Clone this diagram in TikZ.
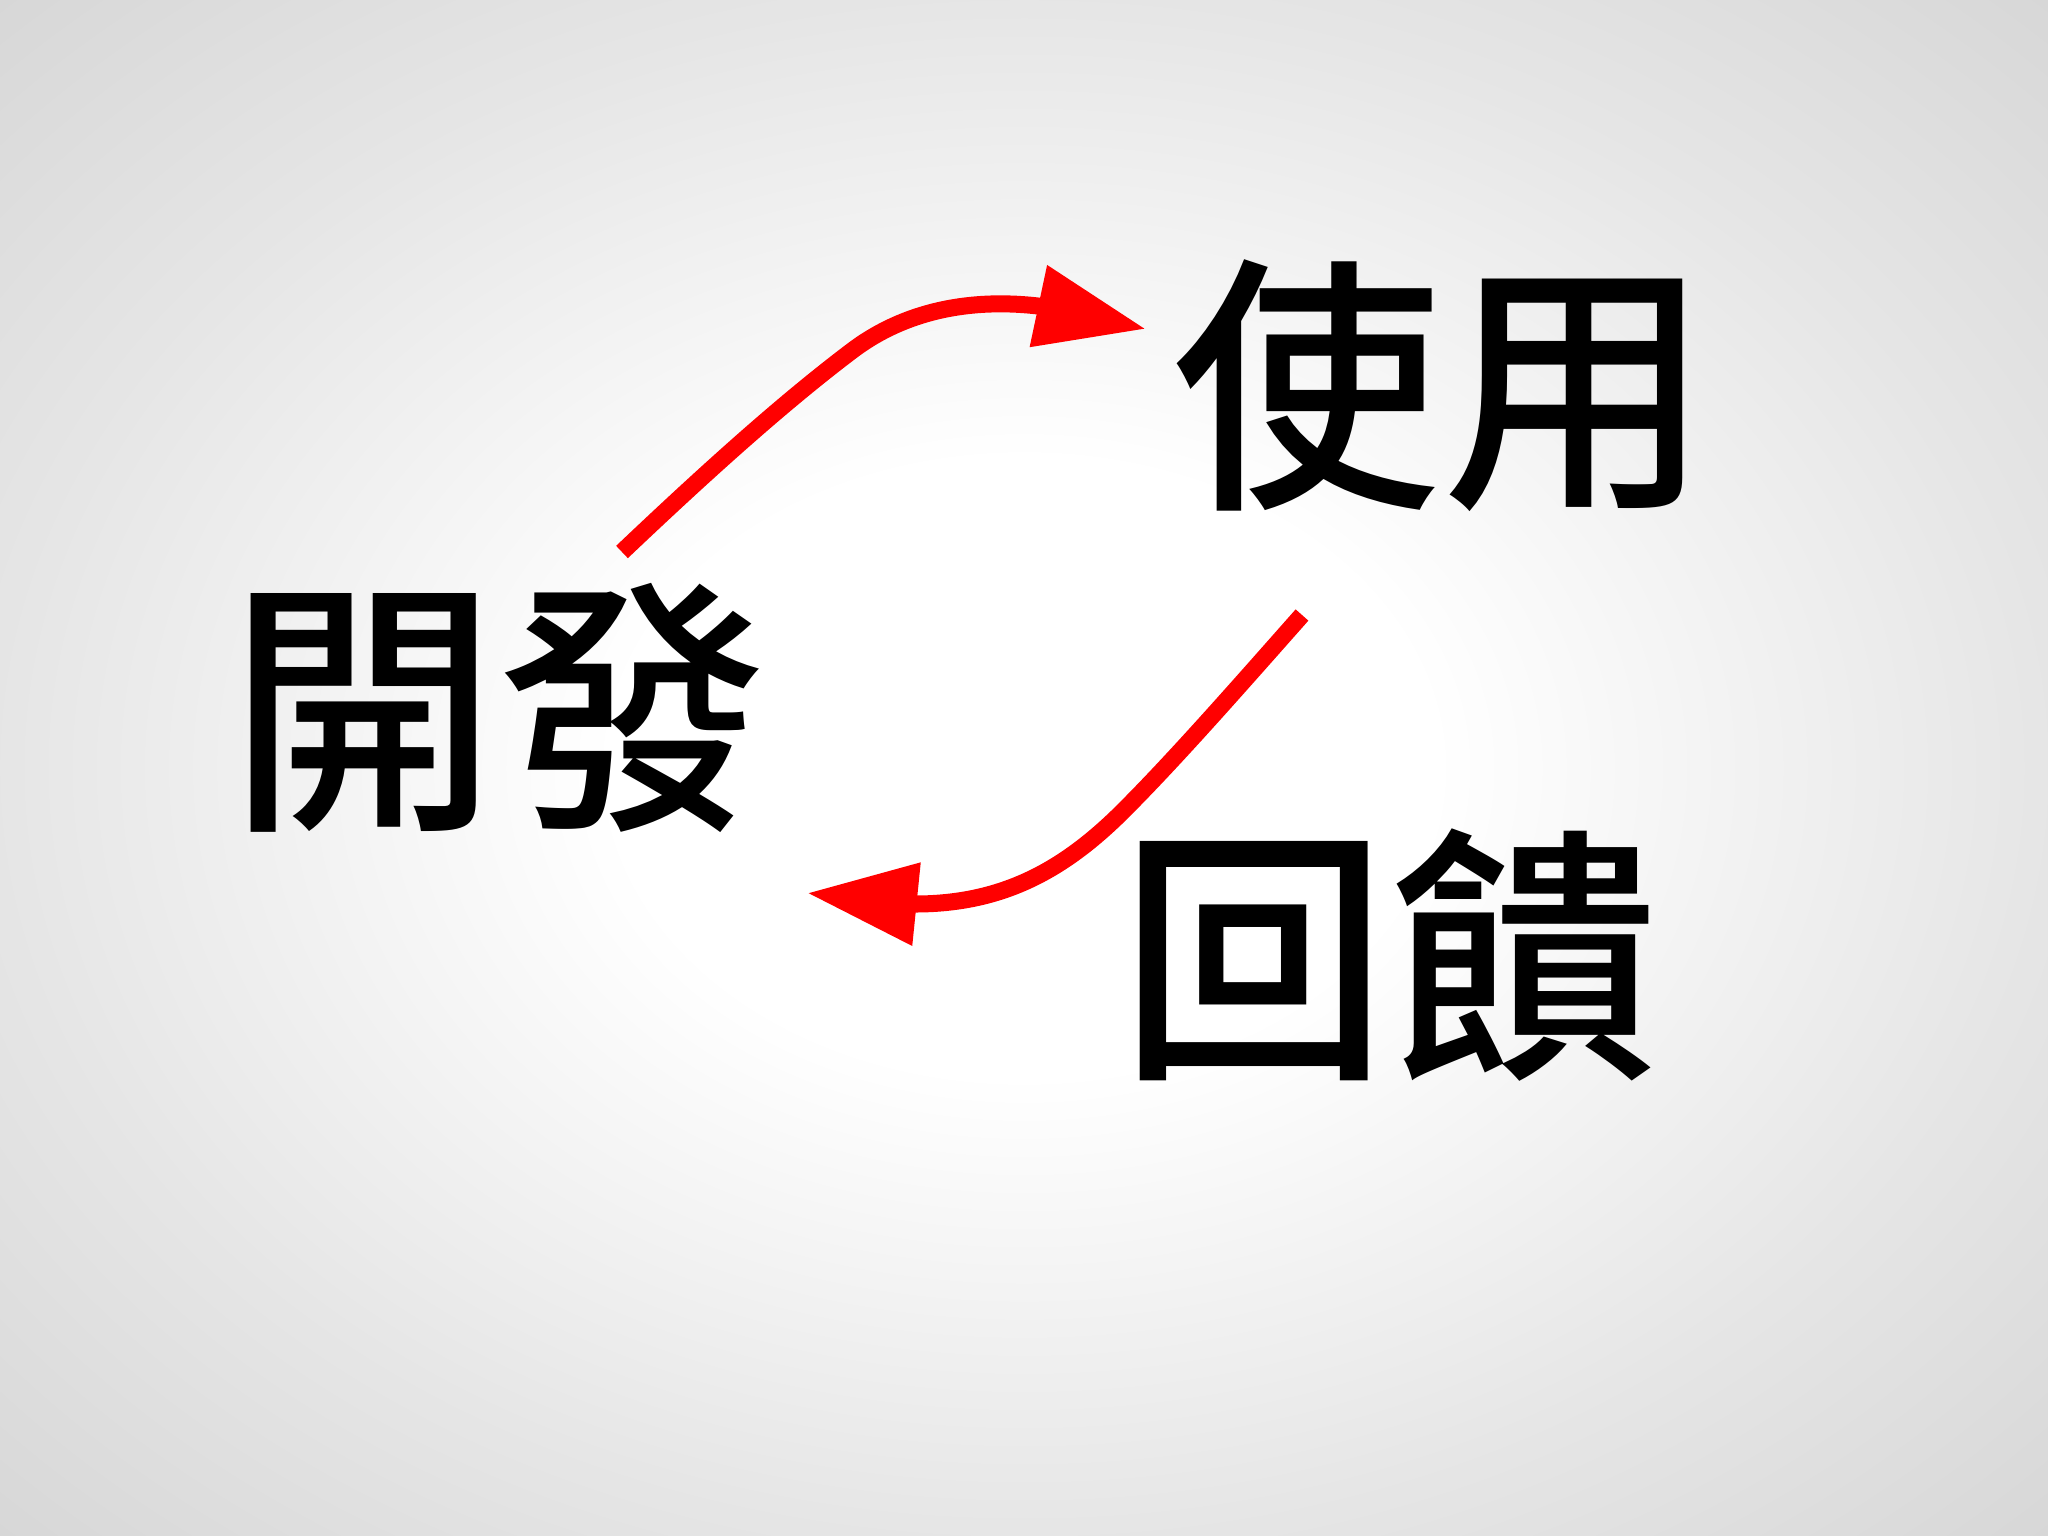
\documentclass[tikz,border=0pt]{standalone}
\usepackage{fontspec}
\newfontfamily\cjk{Noto Sans CJK TC}[UprightFont=* Medium]
\usetikzlibrary{arrows.meta}
\pgfdeclareradialshading{bgshade}{\pgfpoint{0bp}{0bp}}{color(0bp)=(white); color(10bp)=(white); color(25bp)=(black!10); color(36bp)=(black!16); color(50bp)=(black!18)}
\begin{document}
\begin{tikzpicture}[x=0.01cm,y=-0.01cm,
  word/.style={font=\cjk\fontsize{76.5}{80}\selectfont, inner sep=0pt, text=black},
  flow/.style={draw=red, line width=0.17cm, -{Triangle[length=1.1cm,width=0.79cm]}}]
\shade[shading=bgshade] (0,0) rectangle (2048,1536);
\useasboundingbox (0,0) rectangle (2048,1536);
\node[word] (kaifa) at (498,708) {開發};
\node[word] (shiyong) at (1442,386) {使用};
\node[word] (huikui) at (1389,955) {回饋};
\coordinate (a1s) at (622,552);
\coordinate (a1t) at (1146,329);
\coordinate (a2s) at (1302,615);
\coordinate (a2t) at (807,893);
\draw[flow] (a1s) .. controls (700,478) and (780,405) .. (853,350) .. controls (897,317) and (958,297) .. (1038,306) -- (a1t);
\draw[flow] (a2s) .. controls (1240,685) and (1170,765) .. (1117,817) .. controls (1060,872) and (1000,904) .. (915,904) -- (a2t);
\end{tikzpicture}
\end{document}
